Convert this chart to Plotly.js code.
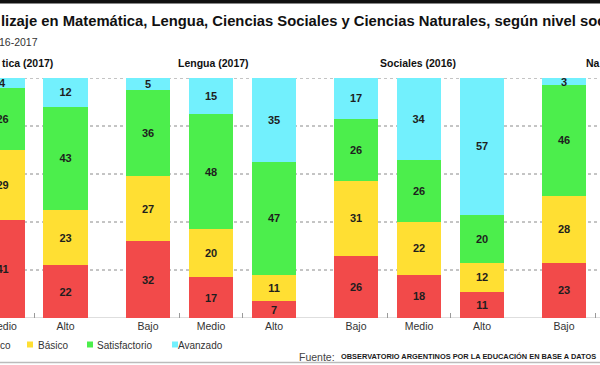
<!DOCTYPE html>
<html>
<head>
<meta charset="utf-8">
<script src="https://cdn.plot.ly/plotly-3.0.1.min.js"></script>
<style>html,body{margin:0;padding:0;background:#fff;}#chart{width:600px;height:365px;}</style>
</head>
<body>
<div id="chart"></div>
<script>
// ---- data ----
const levels = ["Bajo", "Medio", "Alto"];
const seriesNames = ["Por debajo del básico", "Básico", "Satisfactorio", "Avanzado"];
const seriesColors = ["#F24A4A", "#FFDF33", "#4CEE4C", "#72F0FD"];

// Matemática (2017) – only Medio and Alto are visible
const matDebajo = [null, 41, 22];
const matBasico = [null, 29, 23];
const matSatisf = [null, 26, 43];
const matAvanz  = [null, 4, 12];
// Lengua (2017)
const lenDebajo = [32, 17, 7];
const lenBasico = [27, 20, 11];
const lenSatisf = [36, 48, 47];
const lenAvanz  = [5, 15, 35];
// Sociales (2016)
const socDebajo = [26, 18, 11];
const socBasico = [31, 22, 12];
const socSatisf = [26, 26, 20];
const socAvanz  = [17, 34, 57];
// Naturales (2016) – only Bajo is visible
const natDebajo = [23, null, null];
const natBasico = [28, null, null];
const natSatisf = [46, null, null];
const natAvanz  = [3, null, null];

const groups = [
  {axis: "x",  series: [matDebajo, matBasico, matSatisf, matAvanz]},
  {axis: "x2", series: [lenDebajo, lenBasico, lenSatisf, lenAvanz]},
  {axis: "x3", series: [socDebajo, socBasico, socSatisf, socAvanz]},
  {axis: "x4", series: [natDebajo, natBasico, natSatisf, natAvanz]}
];

const traces = [];
groups.forEach(g => {
  g.series.forEach((vals, si) => {
    traces.push({
      type: "bar",
      name: seriesNames[si],
      x: levels,
      y: vals,
      xaxis: g.axis,
      yaxis: "y",
      marker: {color: seriesColors[si], line: {width: 0}},
      text: vals.map(v => v == null ? "" : String(v)),
      textposition: "inside",
      insidetextanchor: "middle",
      textangle: 0,
      textfont: {family: "Liberation Sans, Arial, sans-serif", size: 11, color: "#1e1e1e", weight: "bold"},
      hoverinfo: "skip",
      showlegend: false
    });
  });
});

const W = 600, H = 365, T = 78, B = 47;
const PH = H - T - B;
const px = v => v / W;                 // pixel x -> paper x
const py = v => (H - B - v) / PH;      // pixel y -> paper y

const xCommon = {
  type: "category",
  categoryorder: "array",
  categoryarray: levels,
  tickson: "boundaries",
  ticks: "inside",
  ticklen: 5,
  tickcolor: "#9a9a9a",
  tickwidth: 1,
  showline: false,
  showgrid: false,
  zeroline: false,
  tickfont: {family: "Liberation Sans, Arial, sans-serif", size: 10.5, color: "#333"},
  fixedrange: true,
  anchor: "y"
};
const catW = 63;

const layout = {
  width: W, height: H,
  margin: {l: 0, r: 0, t: T, b: B, pad: 0, autoexpand: false},
  paper_bgcolor: "#fff",
  plot_bgcolor: "rgba(0,0,0,0)",
  barmode: "stack",
  bargap: 0.3,
  uniformtext: {minsize: 11, mode: "show"},
  showlegend: false,
  xaxis:  Object.assign({}, xCommon, {domain: [0, px(97)], range: [2.5 - 97 / catW, 2.5]}),
  xaxis2: Object.assign({}, xCommon, {domain: [px(116.5), px(305.5)], range: [-0.5, 2.5]}),
  xaxis3: Object.assign({}, xCommon, {domain: [px(324.5), px(513.5)], range: [-0.5, 2.5]}),
  xaxis4: Object.assign({}, xCommon, {domain: [px(532.5), 1], range: [-0.5, -0.5 + 67.5 / catW]}),
  yaxis: {range: [0, 100], domain: [0, 1], showgrid: false, zeroline: false, showticklabels: false, ticks: "", fixedrange: true},
  shapes: [],
  annotations: []
};

// dotted gridlines and base line
[20, 40, 60, 80, 100].forEach(v => layout.shapes.push({
  type: "line", xref: "paper", yref: "y", x0: 0, x1: 1, y0: v, y1: v,
  line: {color: "#8a8a8a", width: 1, dash: "dot"}, layer: "below"
}));
layout.shapes.push({type: "line", xref: "paper", yref: "y", x0: 0, x1: 1, y0: 0, y1: 0,
  line: {color: "#bdbdbd", width: 1}, layer: "below"});
// top black band and bottom rule
layout.shapes.push({type: "rect", xref: "paper", yref: "paper", x0: 0, x1: 1, y0: py(3.5), y1: py(0),
  fillcolor: "#111", line: {width: 0}});
layout.shapes.push({type: "line", xref: "paper", yref: "paper", x0: 0, x1: 1, y0: py(362.5), y1: py(362.5),
  line: {color: "#bbbbbb", width: 1.5}});

// annotation helper: pixel position, with the ~3px annotation padding compensated
const ann = (text, x, y, opts) => {
  const o = Object.assign({
    text, xref: "paper", yref: "paper", showarrow: false,
    xanchor: "left", yanchor: "middle",
    font: {family: "Liberation Sans, Arial, sans-serif", size: 11, color: "#222"}
  }, opts || {});
  const shift = o.xanchor === "left" ? -3 : (o.xanchor === "right" ? 3 : 0);
  o.x = px(x + shift);
  o.y = py(y);
  layout.annotations.push(o);
};

// titles
ann("lizaje en Matemática, Lengua, Ciencias Sociales y Ciencias Naturales, según nivel soc", 2, 20.5,
  {font: {family: "Liberation Sans Narrow, Arial Narrow, sans-serif", size: 14.8, color: "#111", weight: "bold"}});
ann("16-2017", 0, 41.5, {font: {family: "Liberation Sans, Arial, sans-serif", size: 10.5, color: "#333"}});

// group titles
const gFont = {family: "Liberation Sans, Arial, sans-serif", size: 10.5, color: "#111", weight: "bold"};
ann("tica (2017)", 52, 63, {xanchor: "right", font: gFont});
ann("Lengua (2017)", 213, 63, {xanchor: "center", font: gFont});
ann("Sociales (2016)", 417.5, 63, {xanchor: "center", font: gFont});
ann("Na", 587, 63, {font: gFont});

// legend (manual)
const lFont = {family: "Liberation Sans, Arial, sans-serif", size: 10, color: "#333"};
ann("co", 10, 345, {xanchor: "right", font: lFont});
const legendItems = [
  {color: seriesColors[1], mark: 27, text: seriesNames[1], tx: 39},
  {color: seriesColors[2], mark: 87, text: seriesNames[2], tx: 98},
  {color: seriesColors[3], mark: 172, text: seriesNames[3], tx: 179}
];
legendItems.forEach(it => {
  layout.shapes.push({type: "rect", xref: "paper", yref: "paper",
    x0: px(it.mark), x1: px(it.mark + 6), y0: py(347.5), y1: py(341.5),
    fillcolor: it.color, line: {width: 0}});
  ann(it.text, it.tx, 345, {font: lFont});
});

// source
ann("Fuente:", 300, 356.5,
  {font: {family: "Liberation Sans, Arial, sans-serif", size: 10.5, color: "#444"}});
ann("OBSERVATORIO ARGENTINOS POR LA EDUCACIÓN EN BASE A DATOS", 342, 356.5,
  {font: {family: "Liberation Sans Narrow, Arial Narrow, sans-serif", size: 7.4, color: "#1a1a1a", weight: "bold"}});

Plotly.newPlot("chart", traces, layout, {staticPlot: true, displayModeBar: false});
</script>
</body>
</html>
